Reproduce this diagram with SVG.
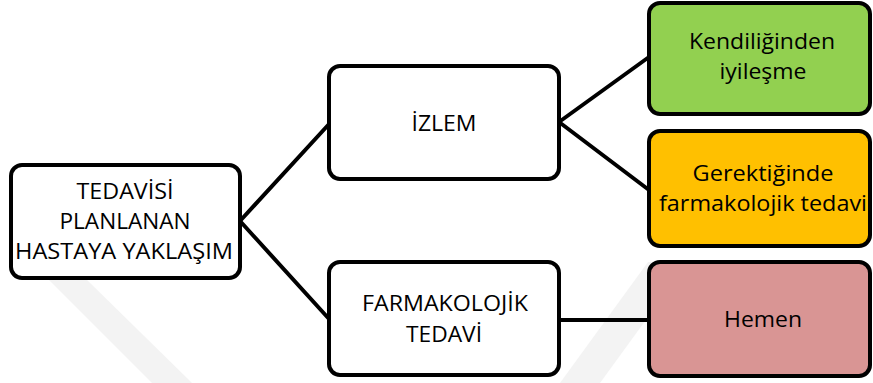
<svg xmlns="http://www.w3.org/2000/svg" width="873" height="383" viewBox="0 0 873 383">
  <style>
    .box { stroke: #000; stroke-width: 4; }
    .plain { fill: #ffffff; }
    .green { fill: #92D050; }
    .amber { fill: #FFC000; }
    .rose { fill: #D99594; }
    .link { stroke: #000; stroke-width: 4; fill: none; stroke-linecap: round; }
    .label { font-family: "Open Sans", "Liberation Sans", sans-serif; font-size: 22px; fill: #000; text-anchor: middle; }
    .shade { fill: #f3f3f3; }
  </style>

  <rect width="873" height="383" fill="#ffffff"/>

  <!-- faint background bands -->
  <g id="backdrop">
    <polygon class="shade" points="48,279 86,279 192,383 152,383"/>
    <polygon class="shade" points="648,262 688,262 600,383 560,383"/>
  </g>

  <!-- connectors -->
  <g id="connectors">
    <line class="link" x1="240" y1="221" x2="330" y2="123"/>
    <line class="link" x1="240" y1="221" x2="330" y2="320"/>
    <line class="link" x1="559" y1="122" x2="649" y2="57"/>
    <line class="link" x1="559" y1="122" x2="649" y2="190"/>
    <line class="link" x1="559" y1="320" x2="649" y2="320"/>
  </g>

  <g id="root">
    <rect class="box plain" x="11" y="165" width="229" height="113" rx="11"/>
    <text class="label" x="125" y="199" textLength="97" lengthAdjust="spacingAndGlyphs">TEDAVİSİ</text>
    <text class="label" x="125" y="229" textLength="131" lengthAdjust="spacingAndGlyphs">PLANLANAN</text>
    <text class="label" x="124" y="259" textLength="218" lengthAdjust="spacingAndGlyphs">HASTAYA YAKLAŞIM</text>
  </g>

  <g id="izlem">
    <rect class="box plain" x="329" y="66" width="230" height="113" rx="11"/>
    <text class="label" x="444" y="131" textLength="65" lengthAdjust="spacingAndGlyphs">İZLEM</text>
  </g>

  <g id="farmakolojik">
    <rect class="box plain" x="329" y="262" width="230" height="113" rx="11"/>
    <text class="label" x="445" y="311" textLength="166" lengthAdjust="spacingAndGlyphs">FARMAKOLOJİK</text>
    <text class="label" x="444" y="342" textLength="76" lengthAdjust="spacingAndGlyphs">TEDAVİ</text>
  </g>

  <g id="kendiliginden">
    <rect class="box green" x="649" y="3" width="221" height="111" rx="11"/>
    <text class="label" x="762" y="49" textLength="146" lengthAdjust="spacingAndGlyphs">Kendiliğinden</text>
    <text class="label" x="763" y="79" textLength="87" lengthAdjust="spacingAndGlyphs">iyileşme</text>
  </g>

  <g id="gerektiginde">
    <rect class="box amber" x="649" y="131" width="221" height="115" rx="11"/>
    <text class="label" x="763" y="181" textLength="141" lengthAdjust="spacingAndGlyphs">Gerektiğinde</text>
    <text class="label" x="763" y="211" textLength="208" lengthAdjust="spacingAndGlyphs">farmakolojik tedavi</text>
  </g>

  <g id="hemen">
    <rect class="box rose" x="649" y="262" width="221" height="114" rx="11"/>
    <text class="label" x="763" y="327" textLength="78" lengthAdjust="spacingAndGlyphs">Hemen</text>
  </g>
</svg>
